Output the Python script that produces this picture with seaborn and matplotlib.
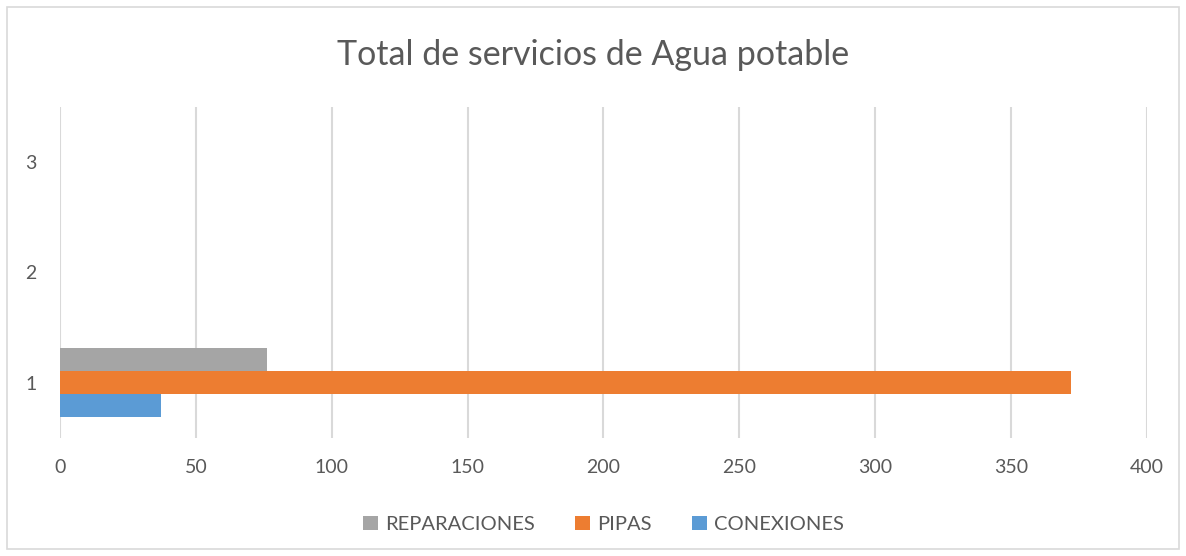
import pandas as pd
import matplotlib.pyplot as plt
import seaborn as sns
from matplotlib.patches import Rectangle

# Datos
categorias = ['1']
conexiones = [37]
pipas = [372]
reparaciones = [76]
orden_y = ['3', '2', '1']
series = ['REPARACIONES', 'PIPAS', 'CONEXIONES']
colores = ['#a5a5a5', '#ed7d31', '#5b9bd5']
ticks_x = [0, 50, 100, 150, 200, 250, 300, 350, 400]

sns.set_style("white")
plt.rcParams['font.family'] = ['Lato', 'DejaVu Sans']

df = pd.DataFrame({
    'categoria': categorias * 3,
    'serie': ['CONEXIONES'] * len(categorias) + ['PIPAS'] * len(categorias) + ['REPARACIONES'] * len(categorias),
    'valor': conexiones + pipas + reparaciones,
})

fig = plt.figure(figsize=(11.86, 5.56), dpi=100)
ax = fig.add_axes([0.0506, 0.2122, 0.9165, 0.5954])

sns.barplot(data=df, x='valor', y='categoria', hue='serie', order=orden_y,
            hue_order=series, palette=colores, orient='h', width=0.627,
            saturation=1, errorbar=None, linewidth=0, ax=ax)

ax.set_xlim(0, 400)
ax.set_xticks(ticks_x)
ax.set_xlabel('')
ax.set_ylabel('')
ax.grid(axis='x', color='#d9d9d9', linewidth=1.5)
ax.set_axisbelow(True)
for s in ax.spines.values():
    s.set_visible(False)
ax.tick_params(axis='both', colors='#595959', labelsize=14, length=0)
ax.tick_params(axis='x', pad=15)
ax.tick_params(axis='y', pad=17)

leg = ax.legend(loc='upper center', bbox_to_anchor=(0.5, -0.18), ncol=3, frameon=False,
                fontsize=14.5, handlelength=0.75, handleheight=0.75, columnspacing=2.0,
                handletextpad=0.35)
for t in leg.get_texts():
    t.set_color('#595959')

fig.suptitle('Total de servicios de Agua potable', y=0.93, fontsize=24.5, color='#595959')

# Borde del gráfico
fig.patches.append(Rectangle((0.006, 0.013), 0.988, 0.974, transform=fig.transFigure,
                             fill=False, edgecolor='#d9d9d9', linewidth=1.2))

fig.savefig('out.png', dpi=100)
